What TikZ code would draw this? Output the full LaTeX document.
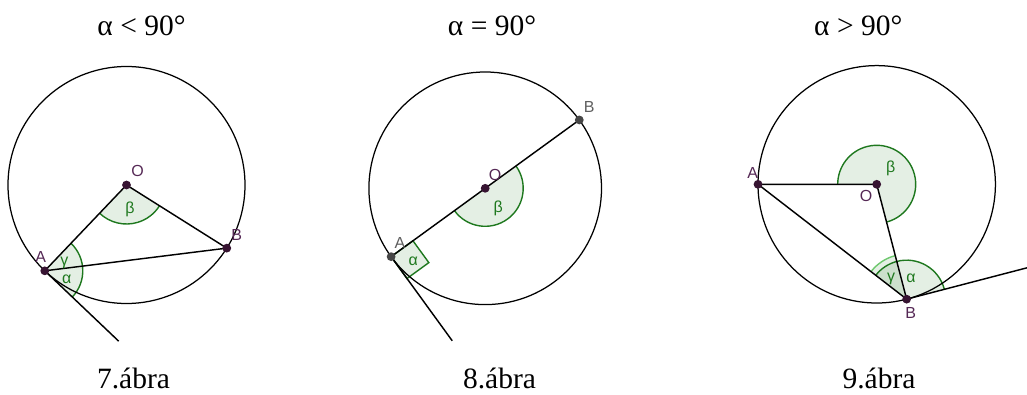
\documentclass[tikz,border=0pt]{standalone}
\usepackage{fontspec}
\setmainfont{Liberation Serif}
\newfontfamily\lblfont{Liberation Sans}
\definecolor{ggreen}{RGB}{30,120,30}
\definecolor{lgreen}{RGB}{110,200,110}
\definecolor{ptcol}{RGB}{55,20,50}
\definecolor{lblcol}{RGB}{85,40,85}
\definecolor{gptcol}{RGB}{70,70,70}
\definecolor{glblcol}{RGB}{95,95,95}
\begin{document}
\begin{tikzpicture}[x=1pt,y=1pt,
  circ/.style={line width=1.25pt},
  seg/.style={line width=1.45pt},
  angfill/.style={fill=ggreen,fill opacity=0.12},
  angline/.style={draw=ggreen,line width=1.4pt},
  dot/.style={fill=ptcol},
  ptlbl/.style={font=\lblfont\fontsize{16}{19}\selectfont,text=lblcol,inner sep=0pt},
  grklbl/.style={font=\lblfont\fontsize{16}{19}\selectfont,text=ggreen,inner sep=0pt},
  title/.style={font=\fontsize{29.5}{34}\selectfont,anchor=base,inner sep=0pt}]
\useasboundingbox (0,0) rectangle (1027,394);
% titles and captions
\node[title] (t1) at (141.5,358) {α < 90°};
\node[title] (t2) at (492,358) {α = 90°};
\node[title] (t3) at (858.3,358) {α > 90°};
\node[title] (c1) at (133.5,6) {7.ábra};
\node[title] (c2) at (499.5,6) {8.ábra};
\node[title] (c3) at (879,6) {9.ábra};
% 7. abra
\coordinate (O1) at (126.5,209);
\path (O1) ++(226.4:118.5) coordinate (A1);
\path (O1) ++(-32.2:118.5) coordinate (B1);
\path (A1) ++(-43.6:102) coordinate (T1);
\fill[angfill] (O1) -- ++(226.4:39) arc[start angle=226.4,end angle=327.8,radius=39] -- cycle;
\draw[angline] (O1) ++(226.4:39) arc[start angle=226.4,end angle=327.8,radius=39];
\fill[angfill] (A1) -- ++(-43.6:38) arc[start angle=-43.6,end angle=7.2,radius=38] -- cycle;
\fill[angfill] (A1) -- ++(7.2:38) arc[start angle=7.2,end angle=46.4,radius=38] -- cycle;
\draw[angline] (A1) ++(-43.6:38) arc[start angle=-43.6,end angle=46.4,radius=38];
\draw[circ] (O1) circle[radius=118.5];
\draw[seg] (A1) -- (O1) -- (B1) -- (A1) -- (T1);
\fill[dot] (O1) circle[radius=4.4];
\fill[dot] (A1) circle[radius=4.4];
\fill[dot] (B1) circle[radius=4.4];
\node[ptlbl] (lo1) at (137.7,223.3) {O};
\node[ptlbl] (la1) at (40.7,137) {A};
\node[ptlbl] (lb1) at (236.7,159) {B};
\node[grklbl] (be1) at (130,185) {β};
\node[grklbl] (ga1) at (64.3,131) {γ};
\node[grklbl] (al1) at (66.7,114.7) {α};
% 8. abra
\coordinate (O2) at (485.2,205.7);
\path (O2) ++(216:116.3) coordinate (A2);
\path (O2) ++(36:116.3) coordinate (B2);
\path (A2) ++(306:104) coordinate (T2);
\fill[angfill] (O2) -- ++(216:38) arc[start angle=216,end angle=396,radius=38] -- cycle;
\draw[angline] (O2) ++(216:38) arc[start angle=216,end angle=396,radius=38];
\fill[angfill] (A2) -- ++(36:27) -- ++(-54:27) -- ++(216:27) -- cycle;
\draw[angline] (A2) -- ++(36:27) -- ++(-54:27) -- ++(216:27) -- cycle;
\draw[circ] (O2) circle[radius=116.3];
\draw[seg] (B2) -- (A2) -- (T2);
\fill[dot] (O2) circle[radius=4.4];
\fill[gptcol] (A2) circle[radius=4.4];
\fill[gptcol] (B2) circle[radius=4.4];
\node[ptlbl] (lo2) at (495,219) {O};
\node[ptlbl,text=glblcol] (la2) at (400,150.7) {A};
\node[ptlbl,text=glblcol] (lb2) at (589.3,287.3) {B};
\node[grklbl] (be2) at (498.3,185.7) {β};
\node[grklbl] (al2) at (413.3,132.3) {α};
% 9. abra
\coordinate (O3) at (876.7,209.7);
\path (O3) ++(180:118.7) coordinate (A3);
\path (O3) ++(-75.4:118.7) coordinate (B3);
\path (B3) ++(14.6:124.3) coordinate (T3);
\fill[angfill] (O3) -- ++(-75.4:39) arc[start angle=-75.4,end angle=180,radius=39] -- cycle;
\draw[angline] (O3) ++(-75.4:39) arc[start angle=-75.4,end angle=180,radius=39];
\fill[angfill] (B3) -- ++(104.6:45) arc[start angle=104.6,end angle=142.4,radius=45] -- cycle;
\draw[angline,draw=lgreen] (B3) ++(104.6:45) arc[start angle=104.6,end angle=142.4,radius=45];
\fill[angfill] (B3) -- ++(14.6:39) arc[start angle=14.6,end angle=142.4,radius=39] -- cycle;
\draw[angline] (B3) ++(14.6:39) arc[start angle=14.6,end angle=142.4,radius=39];
\draw[circ] (O3) circle[radius=118.7];
\draw[seg] (A3) -- (O3) -- (B3) -- (A3);
\draw[seg] (B3) -- (T3);
\fill[dot] (O3) circle[radius=4.4];
\fill[dot] (A3) circle[radius=4.4];
\fill[dot] (B3) circle[radius=4.4];
\node[ptlbl] (lo3) at (866,198) {O};
\node[ptlbl] (la3) at (752.7,221.3) {A};
\node[ptlbl] (lb3) at (910.7,81.3) {B};
\node[grklbl] (be3) at (890.7,225.7) {β};
\node[grklbl] (ga3) at (891,114.7) {γ};
\node[grklbl] (al3) at (911,115.7) {α};
\end{tikzpicture}
\end{document}
